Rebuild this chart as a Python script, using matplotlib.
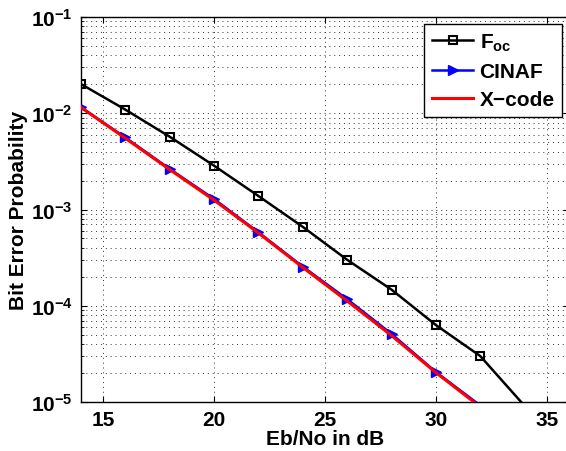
import math
import matplotlib
matplotlib.use("Agg")
import matplotlib.pyplot as plt
from matplotlib.ticker import FixedLocator, FuncFormatter, LogLocator, NullFormatter

plt.rcParams['font.family'] = ['Liberation Sans', 'DejaVu Sans']
plt.rcParams['font.weight'] = 'bold'
plt.rcParams['mathtext.fontset'] = 'custom'
plt.rcParams['mathtext.rm'] = 'Liberation Sans:bold'
plt.rcParams['mathtext.bf'] = 'Liberation Sans:bold'
plt.rcParams['mathtext.it'] = 'Liberation Sans:bold'
plt.rcParams['mathtext.default'] = 'bf'

# Data
snr_foc = [14, 16, 18, 20, 22, 24, 26, 28, 30, 32, 34]
ber_foc = [2.01e-2, 1.09e-2, 5.7e-3, 2.85e-3, 1.38e-3, 6.6e-4, 3.0e-4, 1.47e-4, 6.3e-5, 3.0e-5, 9.1e-6]

snr_cinaf = [14, 16, 18, 20, 22, 24, 26, 28, 30, 32]
ber_cinaf = [1.15e-2, 5.6e-3, 2.64e-3, 1.285e-3, 5.8e-4, 2.55e-4, 1.17e-4, 5.1e-5, 2.05e-5, 9.2e-6]

snr_x = [14, 16, 18, 20, 22, 24, 26, 28, 30, 32]
ber_x = [1.15e-2, 5.5e-3, 2.6e-3, 1.25e-3, 5.7e-4, 2.5e-4, 1.12e-4, 4.9e-5, 2.02e-5, 8.9e-6]

xticks = [15, 20, 25, 30, 35]
yexp = [-5, -4, -3, -2, -1]

fig = plt.figure(figsize=(5.66, 4.52), dpi=100)
ax = fig.add_axes([81/566, 49/452, 488/566, 385/452])

ax.plot(snr_foc, ber_foc, color='black', lw=1.8, marker='s', ms=5.2,
        mfc='none', mec='black', mew=1.5, markevery=list(range(len(snr_foc) - 1)),
        label=r'F$_{\mathbf{oc}}$', zorder=3)
ax.plot(snr_cinaf, ber_cinaf, color='blue', lw=1.8, marker='>', ms=7.5,
        mfc='blue', mec='blue', markevery=list(range(len(snr_cinaf) - 1)),
        label='CINAF', zorder=3)
ax.plot(snr_x, ber_x, color='red', lw=2.2, label='X\u2212code', zorder=4)

ax.set_yscale('log')
ax.set_xlim(14, 36)
ax.set_ylim(1e-5, 1e-1)
ax.xaxis.set_major_locator(FixedLocator(xticks))
ax.yaxis.set_major_locator(FixedLocator([10.0**e for e in yexp]))
ax.yaxis.set_minor_locator(LogLocator(base=10, subs=range(2, 10), numticks=20))
ax.yaxis.set_minor_formatter(NullFormatter())
ax.yaxis.set_major_formatter(FuncFormatter(lambda v, p: r'$\mathbf{10^{%d}}$' % round(math.log10(v))))

ax.tick_params(which='both', direction='in', top=True, right=True)
ax.tick_params(which='major', length=4, width=0.8, labelsize=15, pad=6)
ax.tick_params(which='minor', length=2, width=0.6)
for lab in ax.get_xticklabels():
    lab.set_fontweight('bold')

ax.grid(True, which='major', axis='both', linestyle=(0, (1, 4)), color='#333333', lw=0.7)
ax.grid(True, which='minor', axis='y', linestyle=(0, (1, 4)), color='#333333', lw=0.7)
for s in ax.spines.values():
    s.set_linewidth(1.0)

ax.set_xlabel('Eb/No in dB', fontsize=15, fontweight='bold', labelpad=0)
ax.set_ylabel('Bit Error Probability', fontsize=15, fontweight='bold', labelpad=2)

leg = ax.legend(loc='upper right', bbox_to_anchor=(562/566, 1 - 25/452),
                bbox_transform=fig.transFigure, fontsize=15, frameon=True,
                fancybox=False, framealpha=1, edgecolor='black',
                handlelength=2.0, handletextpad=0.3, borderpad=0.35,
                labelspacing=0.45, borderaxespad=0)
leg.get_frame().set_linewidth(1.0)

fig.savefig('out.png', dpi=100)
